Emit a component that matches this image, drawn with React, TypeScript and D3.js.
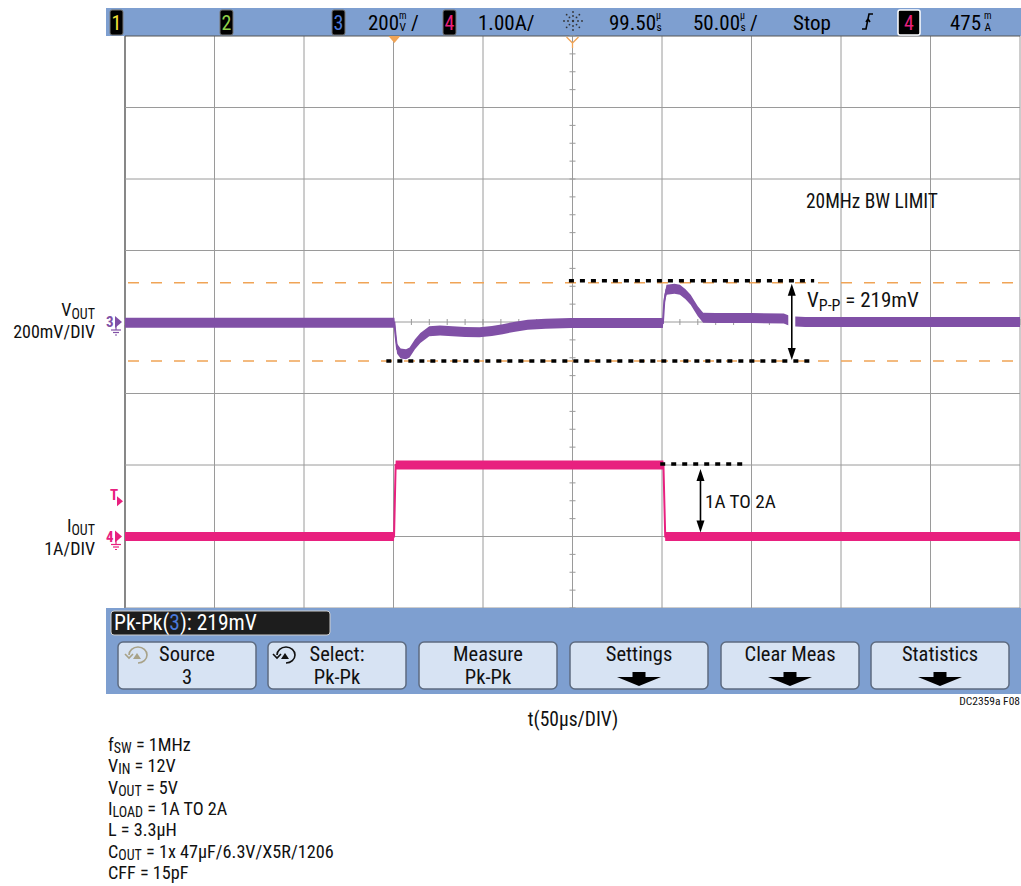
import React from "react";
import * as d3 from "d3";

// ---------------- data ----------------
const timeDomainUs = [0, 500]; // 10 div x 50us
const timeDivUs = 50;
const triggerDelayUs = 99.5;
const vDivMv = 200;
const iDivA = 1;

const voutTimeUs = [0, 150.5, 151.2, 152, 154, 157, 159, 162, 165, 170, 176, 183, 190, 198, 205, 211, 218, 225, 235, 249, 300.5, 301.3, 302.5, 307, 310, 313, 316, 320, 323, 330, 350, 368, 372, 380, 500];
const voutMv = [-2, -2, -40, -75, -88, -90, -85, -62, -45, -26, -24, -26, -28, -29, -25, -20, -13, -8, -5, -3, -3, 60, 90, 93, 90, 78, 62, 30, 12, 11, 11, 10, 2, 0, 0];

const ioutTimeUs = [0, 150.3, 151.2, 300.8, 301.8, 500];
const ioutA = [1, 1, 2, 2, 1, 1];

const cursorMv = [110, -109];
const vppLabel = "219mV";
const stepLabel = "1A TO 2A";
const bwLabel = "20MHz BW LIMIT";

const buttonTop = ["Source", "Select:", "Measure", "Settings", "Clear Meas", "Statistics"];
const buttonBottom = ["3", "Pk-Pk", "Pk-Pk", "", "", ""];

const paramMain = ["f", "V", "V", "I", "L = 3.3µH", "C", "CFF = 15pF"];
const paramSub = ["SW", "IN", "OUT", "LOAD", "", "OUT", ""];
const paramRest = [" = 1MHz", " = 12V", " = 5V", " = 1A TO 2A", "", " = 1x 47µF/6.3V/X5R/1206", ""];

// ---------------- style ----------------
const FONT = "'Liberation Sans Narrow', 'Arial Narrow', 'Roboto Condensed', sans-serif";
const BLUE = "#7e9fd0";
const PURPLE = "#8050a6";
const PINK = "#e8207f";
const ORANGE = "#f0a456";
const GRID = "#9a9a9a";

const PLOT = { left: 125, right: 1020, top: 36, bottom: 608 };

function Stacked({ x, top, bottom }: { x: number; top: string; bottom: string }) {
  return (
    <text x={x} y={19} fontSize={10}>
      {top}
      <tspan x={x + 0.5} dy={11.5} fontSize={11.5}>{bottom}</tspan>
    </text>
  );
}

export default function App() {
  const x = d3.scaleLinear().domain(timeDomainUs).range([PLOT.left, PLOT.right]);
  const yDiv = d3.scaleLinear().domain([-4, 4]).range([PLOT.bottom, PLOT.top]);
  const vY = (mv: number) => yDiv(mv / vDivMv);
  const iY = (a: number) => yDiv((a - 1) / iDivA - 3);

  const vBand = 5;
  const iBand = 4.5;
  const vData = voutTimeUs.map((t, i) => [t, voutMv[i]] as [number, number]);
  const iData = ioutTimeUs.map((t, i) => [t, ioutA[i]] as [number, number]);

  const vArea = d3.area<[number, number]>().x((d) => x(d[0])).y0((d) => vY(d[1]) - vBand).y1((d) => vY(d[1]) + vBand);
  const iArea = d3.area<[number, number]>().x((d) => x(d[0])).y0((d) => iY(d[1]) - iBand).y1((d) => iY(d[1]) + iBand);
  const vLine = d3.line<[number, number]>().x((d) => x(d[0])).y((d) => vY(d[1]));
  const iLine = d3.line<[number, number]>().x((d) => x(d[0])).y((d) => iY(d[1]));

  const xTicks = d3.range(timeDomainUs[0], timeDomainUs[1] + 0.01, timeDivUs);
  const yTicks = d3.range(-4, 4.01, 1);
  const centerT = (timeDomainUs[0] + timeDomainUs[1]) / 2;
  const minorX = d3.range(timeDomainUs[0], timeDomainUs[1] + 0.01, timeDivUs / 5);
  const minorY = d3.range(-4, 4.01, 0.25);

  const trigT = centerT - triggerDelayUs;
  const cy = yDiv(0);
  const c4 = iY(1);
  const cx = x(centerT);

  const yUp = vY(cursorMv[0]);
  const yDn = vY(cursorMv[1]);
  const arrowX = x(372.5);
  const iHi = iY(2);
  const iLo = iY(1);
  const iArrowX = x(321.5);

  const arrowHead = (xx: number, yy: number, dir: number) =>
    `M${xx},${yy} L${xx - 4},${yy + dir * 12} L${xx + 4},${yy + dir * 12} Z`;

  const btnX = [118, 268, 419, 570, 721, 871];
  const btnW = 138;

  return (
    <svg width={1021} height={886} style={{ position: "absolute", left: 0, top: 0, background: "#fff" }} fontFamily={FONT}>
      <rect x={0} y={0} width={1021} height={886} fill="#fff" />
      {/* top bar */}
      <rect x={106} y={8} width={915} height={28} fill={BLUE} />
      {/* grid */}
      {xTicks.map((t) => (
        <line key={"gx" + t} x1={x(t)} x2={x(t)} y1={PLOT.top} y2={PLOT.bottom} stroke={t === timeDomainUs[0] ? "#555" : GRID} strokeWidth={t === timeDomainUs[0] ? 1.4 : 1} />
      ))}
      {yTicks.map((d) => (
        <line key={"gy" + d} x1={PLOT.left} x2={PLOT.right} y1={yDiv(d)} y2={yDiv(d)} stroke={d === 4 ? "#555" : GRID} strokeWidth={1} />
      ))}
      {minorY.map((d) => (
        <line key={"my" + d} x1={cx - 3} x2={cx + 3} y1={yDiv(d)} y2={yDiv(d)} stroke={GRID} strokeWidth={1} />
      ))}
      {minorX.map((t) => (
        <line key={"mx" + t} x1={x(t)} x2={x(t)} y1={cy - 3} y2={cy + 3} stroke={GRID} strokeWidth={1} />
      ))}

      {/* cursors (orange dashed) */}
      {cursorMv.map((m) => (
        <line key={"c" + m} x1={PLOT.left + 3} x2={PLOT.right} y1={vY(m)} y2={vY(m)} stroke={ORANGE} strokeWidth={1.5} strokeDasharray="11 12" />
      ))}

      {/* traces */}
      <path d={vArea(vData) || ""} fill={PURPLE} />
      <path d={vLine(vData) || ""} fill="none" stroke={PURPLE} strokeWidth={2} />
      <path d={iArea(iData) || ""} fill={PINK} />
      <path d={iLine(iData) || ""} fill="none" stroke={PINK} strokeWidth={2} />

      {/* black dotted annotation lines */}
      <line x1={x(248)} x2={x(385)} y1={yUp - 2} y2={yUp - 2} stroke="#000" strokeWidth={3.5} strokeDasharray="5 6" />
      <line x1={x(146)} x2={x(385)} y1={yDn} y2={yDn} stroke="#000" strokeWidth={3.5} strokeDasharray="5 6" />
      <line x1={x(299)} x2={x(348)} y1={iHi - 1} y2={iHi - 1} stroke="#000" strokeWidth={3.5} strokeDasharray="5 6" />

      {/* Vpp arrow */}
      <line x1={arrowX} x2={arrowX} y1={yUp + 2} y2={yDn - 2} stroke="#fff" strokeWidth={7} />
      <line x1={arrowX} x2={arrowX} y1={yUp + 6} y2={yDn - 6} stroke="#000" strokeWidth={1.6} />
      <path d={arrowHead(arrowX, yUp + 1, 1)} fill="#000" />
      <path d={arrowHead(arrowX, yDn - 1, -1)} fill="#000" />
      <text x={807} y={307} fontSize={21} fill="#111">
        V<tspan fontSize={16} dy={4}>P-P</tspan>
        <tspan dy={-4}> = {vppLabel}</tspan>
      </text>

      {/* Iout arrow */}
      <line x1={iArrowX} x2={iArrowX} y1={iHi + 10} y2={iLo - 10} stroke="#000" strokeWidth={1.6} />
      <path d={arrowHead(iArrowX, iHi + 4, 1)} fill="#000" />
      <path d={arrowHead(iArrowX, iLo - 4, -1)} fill="#000" />
      <text x={705} y={508} fontSize={19.2} fill="#111">{stepLabel}</text>

      <text x={806} y={208} fontSize={19.4} fill="#111">{bwLabel}</text>

      {/* markers on top */}
      <path d={`M${x(trigT) - 6},36 L${x(trigT) + 6},36 L${x(trigT)},43 Z`} fill={ORANGE} />
      <path d={`M${cx - 6},37 L${cx},43 L${cx + 6},37 M${cx},43 L${cx},48`} fill="none" stroke={ORANGE} strokeWidth={1.3} />

      {/* channel markers */}
      <g fill={PURPLE} stroke="none">
        <text x={106} y={cy + 5} fontSize={15} fontWeight="bold">3</text>
        <path d={`M115,${cy - 6} L122,${cy} L115,${cy + 6} Z`} />
        <g stroke={PURPLE} strokeWidth={1.2}>
          <line x1={116} x2={116} y1={cy} y2={cy + 8} />
          <line x1={111} x2={121} y1={cy + 8} y2={cy + 8} />
          <line x1={113} x2={119} y1={cy + 10.5} y2={cy + 10.5} />
          <line x1={115} x2={117} y1={cy + 13} y2={cy + 13} />
        </g>
      </g>
      <g fill={PINK} stroke="none">
        <text x={106} y={c4 + 5} fontSize={15} fontWeight="bold">4</text>
        <path d={`M115,${c4 - 6} L122,${c4} L115,${c4 + 6} Z`} />
        <g stroke={PINK} strokeWidth={1.2}>
          <line x1={116} x2={116} y1={c4} y2={c4 + 8} />
          <line x1={111} x2={121} y1={c4 + 8} y2={c4 + 8} />
          <line x1={113} x2={119} y1={c4 + 10.5} y2={c4 + 10.5} />
          <line x1={115} x2={117} y1={c4 + 13} y2={c4 + 13} />
        </g>
        <text x={110} y={yDiv(-2.45) + 3} fontSize={15} fontWeight="bold">T</text>
        <path d={`M117,${yDiv(-2.45) - 1} L123,${yDiv(-2.45) + 4} L117,${yDiv(-2.45) + 9} Z`} />
      </g>

      {/* left labels */}
      <text x={95} y={316} fontSize={18} textAnchor="end" fill="#111">
        V<tspan fontSize={14} dy={3}>OUT</tspan>
      </text>
      <text x={95} y={338} fontSize={18} textAnchor="end" fill="#111">200mV/DIV</text>
      <text x={95} y={532} fontSize={18} textAnchor="end" fill="#111">
        I<tspan fontSize={14} dy={3}>OUT</tspan>
      </text>
      <text x={95} y={555} fontSize={18} textAnchor="end" fill="#111">1A/DIV</text>

      {/* top bar contents */}
      {[
        { bx: 110, c: "#f2e23a", t: "1" },
        { bx: 220, c: "#8fd04a", t: "2" },
        { bx: 332, c: "#4a78d8", t: "3" },
        { bx: 443, c: PINK, t: "4" },
      ].map((b) => (
        <g key={b.t}>
          <rect x={b.bx} y={10} width={13} height={25} rx={2} fill="#000" stroke="#777" strokeWidth={1} />
          <text x={b.bx + 6.5} y={30} fontSize={20} textAnchor="middle" fill={b.c}>{b.t}</text>
        </g>
      ))}
      <g fill="#000" fontSize={21}>
        <text x={368} y={30}>200</text>
        <Stacked x={399} top="m" bottom="V" />
        <text x={411} y={30}>/</text>
        <text x={478} y={30}>1.00A/</text>
        <text x={609} y={30}>99.50</text>
        <Stacked x={656} top="µ" bottom="s" />
        <text x={693} y={30}>50.00</text>
        <Stacked x={740} top="µ" bottom="s" />
        <text x={750} y={30}>/</text>
        <text x={793} y={30}>Stop</text>
        <text x={950} y={30}>475</text>
        <Stacked x={984} top="m" bottom="A" />
      </g>
      {/* sun icon */}
      <g fill="#333">
        {d3.range(8).map((k) => {
          const a = (k * Math.PI) / 4;
          return (
            <g key={k}>
              <circle cx={573 + Math.cos(a) * 5} cy={21 + Math.sin(a) * 5} r={0.9} />
              <circle cx={573 + Math.cos(a) * 9} cy={21 + Math.sin(a) * 9} r={0.9} />
            </g>
          );
        })}
        <circle cx={573} cy={21} r={1.2} />
      </g>
      {/* trigger edge */}
      <path d="M862,29 L866,29 L869,14 L873,14 M866,22 L868,19 L870,22" fill="none" stroke="#000" strokeWidth={1.6} />
      <rect x={898} y={10} width={22} height={25} rx={2} fill="#000" stroke="#fff" strokeWidth={1.5} />
      <text x={909} y={30} fontSize={20} textAnchor="middle" fill={PINK}>4</text>

      {/* bottom band */}
      <rect x={106} y={608} width={915} height={86} fill={BLUE} />
      <rect x={111} y={611} width={219} height={24} rx={3} fill="#1d1d1d" stroke="#cfcfcf" strokeWidth={1} />
      <text x={114} y={630} fontSize={21.5} fill="#fff">
        Pk-Pk(<tspan fill="#4a78d8">3</tspan>): {vppLabel}
      </text>
      {buttonTop.map((lbl, i) => {
        const bx = btnX[i];
        const c = bx + btnW / 2;
        return (
          <g key={lbl}>
            <rect x={bx} y={642} width={btnW} height={47} rx={5} fill="#d7e3f3" stroke="#5d6b80" strokeWidth={1.5} />
            <text x={c} y={661} fontSize={20.5} textAnchor="middle" fill="#111">{lbl}</text>
            {buttonBottom[i] ? (
              <text x={c} y={684} fontSize={20.5} textAnchor="middle" fill="#111">{buttonBottom[i]}</text>
            ) : (
              <path d={`M${c - 6.5},672 L${c + 6.5},672 L${c + 6.5},677 L${c + 22},677 L${c},686 L${c - 22},677 L${c - 6.5},677 Z`} fill="#000" />
            )}
          </g>
        );
      })}
      {/* knob icons */}
      {[
        { ix: 137, c: "#a8a288" },
        { ix: 285, c: "#111" },
      ].map((k) => (
        <g key={k.ix} fill="none" stroke={k.c} strokeWidth={1.6}>
          <path d={`M${k.ix - 8},655 A9,8 0 1,1 ${k.ix + 1},663`} />
          <path d={`M${k.ix - 12},654 L${k.ix - 8},658 L${k.ix - 4},654`} />
          <path d={`M${k.ix - 4},659 L${k.ix},653 L${k.ix + 4},659 Z`} fill={k.c} stroke="none" />
        </g>
      ))}

      {/* bottom texts */}
      <text x={573} y={726} fontSize={19.5} textAnchor="middle" fill="#111">t(50µs/DIV)</text>
      <text x={1020} y={705} fontSize={11.5} textAnchor="end" fill="#111">DC2359a F08</text>
      {paramMain.map((m, i) => (
        <text key={i} x={108} y={751 + i * 21.3} fontSize={18.2} fill="#111">
          {m}
          {paramSub[i] ? (
            <>
              <tspan fontSize={14} dy={2}>{paramSub[i]}</tspan>
              <tspan dy={-2}>{paramRest[i]}</tspan>
            </>
          ) : null}
        </text>
      ))}
    </svg>
  );
}
